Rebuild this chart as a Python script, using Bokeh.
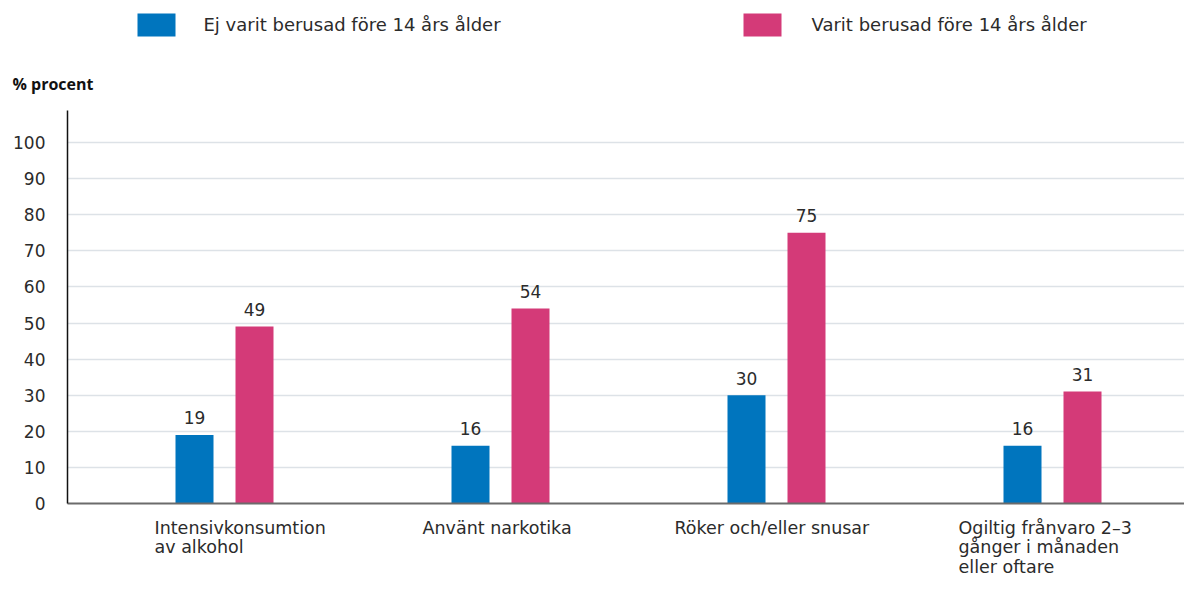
from bokeh.plotting import figure
from bokeh.models import Range1d, FixedTicker, ColumnDataSource
from bokeh.layouts import column
from bokeh.core.properties import value
from bokeh.embed import file_html
from bokeh.resources import INLINE

# ---- data ----
categories = [
    ["Intensivkonsumtion", "av alkohol"],
    ["Använt narkotika"],
    ["Röker och/eller snusar"],
    ["Ogiltig frånvaro 2–3", "gånger i månaden", "eller oftare"],
]
series_names = ["Ej varit berusad före 14 års ålder", "Varit berusad före 14 års ålder"]
ej_berusad = [19, 16, 30, 16]
berusad = [49, 54, 75, 31]
y_ticks = [0, 10, 20, 30, 40, 50, 60, 70, 80, 90, 100]
y_label = "% procent"

# ---- style ----
FONT = "DejaVu Sans"
BOLD_FONT = "Open Sans"
BLUE = "#0075BE"
PINK = "#D43A78"
TXT = "#2b2b2b"

W, H = 1184, 578
LEFT = 67
HEAD_H = 110            # header strip (legend + y label)
FRAME_H = 393           # plot frame height (top at 110, baseline at 503)
MAIN_BOTTOM = 10
FOOT_H = H - HEAD_H - FRAME_H - MAIN_BOTTOM
PX_PER_Y = 3.61
Y_MAX = FRAME_H / PX_PER_Y
PX_PER_X = 276.0
FRAME_W = W - LEFT
X0 = -(224 - LEFT) / PX_PER_X
X1 = X0 + FRAME_W / PX_PER_X
OFF = 30 / PX_PER_X
BW = 38 / PX_PER_X

x_range = Range1d(X0, X1)

def bare(fig):
    fig.outline_line_color = None
    fig.background_fill_color = "white"
    fig.border_fill_color = "white"
    fig.axis.visible = False
    fig.grid.visible = False
    return fig

# ---- header: legend and y label ----
head = bare(figure(width=W, height=HEAD_H, output_backend="svg", toolbar_location=None,
                   x_range=Range1d(0, W), y_range=Range1d(HEAD_H, 0),
                   min_border=0, min_border_left=0, min_border_right=0,
                   min_border_top=0, min_border_bottom=0, frame_align=False))
leg_sq_x = [156, 762]
leg_txt_x = [203, 811]
head.rect(x=leg_sq_x, y=[24.5, 24.5], width=38, height=23,
          fill_color=[BLUE, PINK], line_color=None)
head.text(x=leg_txt_x, y=[24, 24], text=series_names, text_align="left",
          text_baseline="middle", text_font=value(FONT), text_font_size="18px",
          text_color=TXT)
head.text(x=[12], y=[83], text=[y_label], text_align="left", text_baseline="middle",
          text_font=value(BOLD_FONT), text_font_size="16px", text_font_style="bold",
          text_color="#111111")

# ---- main plot ----
p = figure(width=W, height=FRAME_H + MAIN_BOTTOM, output_backend="svg",
           toolbar_location=None, x_range=x_range, y_range=Range1d(0, Y_MAX),
           min_border=0, min_border_left=LEFT, min_border_right=0,
           min_border_top=0, min_border_bottom=MAIN_BOTTOM, frame_align=False)
p.outline_line_color = None
p.background_fill_color = "white"
p.border_fill_color = "white"

idx = list(range(len(categories)))
src = ColumnDataSource(dict(
    xb=[i - OFF for i in idx], xp=[i + OFF for i in idx],
    ej=ej_berusad, be=berusad,
    ej_t=[str(v) for v in ej_berusad], be_t=[str(v) for v in berusad]))

p.vbar(x="xb", top="ej", width=BW, source=src, fill_color=BLUE, line_color=None)
p.vbar(x="xp", top="be", width=BW, source=src, fill_color=PINK, line_color=None)

for xcol, ycol, tcol in [("xb", "ej", "ej_t"), ("xp", "be", "be_t")]:
    p.text(x=xcol, y=ycol, text=tcol, source=src, text_align="center",
           text_baseline="middle", y_offset=-17, text_font=value(FONT),
           text_font_size="17px", text_color=TXT)

p.yaxis.ticker = FixedTicker(ticks=y_ticks)
p.yaxis.major_tick_line_color = None
p.yaxis.major_tick_out = 0
p.yaxis.major_tick_in = 0
p.yaxis.minor_tick_line_color = None
p.yaxis.axis_line_color = "#111111"
p.yaxis.axis_line_width = 1.5
p.yaxis.major_label_standoff = 22
p.yaxis.major_label_text_font = FONT
p.yaxis.major_label_text_font_size = "17px"
p.yaxis.major_label_text_color = TXT

p.xaxis.ticker = FixedTicker(ticks=[])
p.xaxis.major_tick_line_color = None
p.xaxis.major_tick_out = 0
p.xaxis.minor_tick_line_color = None
p.xaxis.major_label_text_font_size = "0px"
p.xaxis.axis_line_color = "#6b6b6b"
p.xaxis.axis_line_width = 2

p.xgrid.grid_line_color = None
p.ygrid.ticker = FixedTicker(ticks=y_ticks)
p.ygrid.grid_line_color = "#dde2e7"
p.ygrid.grid_line_width = 1.5

# ---- footer: category labels ----
foot = bare(figure(width=W, height=FOOT_H, output_backend="svg", toolbar_location=None,
                   x_range=x_range, y_range=Range1d(FOOT_H, 0),
                   min_border=0, min_border_left=LEFT, min_border_right=0,
                   min_border_top=0, min_border_bottom=0, frame_align=False))
left_offsets = [-70, -78, -102, -94]
line_y = [14, 33.5, 53]     # line centres relative to footer top
lx, ly, lt, lo = [], [], [], []
for i, lines in enumerate(categories):
    for j, line in enumerate(lines):
        lx.append(i)
        ly.append(line_y[j])
        lt.append(line)
        lo.append(left_offsets[i])
foot.text(x=lx, y=ly, text=lt, x_offset=lo, text_align="left",
          text_baseline="middle", text_font=value(FONT), text_font_size="17.5px",
          text_color=TXT)

layout = column(head, p, foot, spacing=0)
open("out.html", "w").write(file_html(layout, INLINE))
